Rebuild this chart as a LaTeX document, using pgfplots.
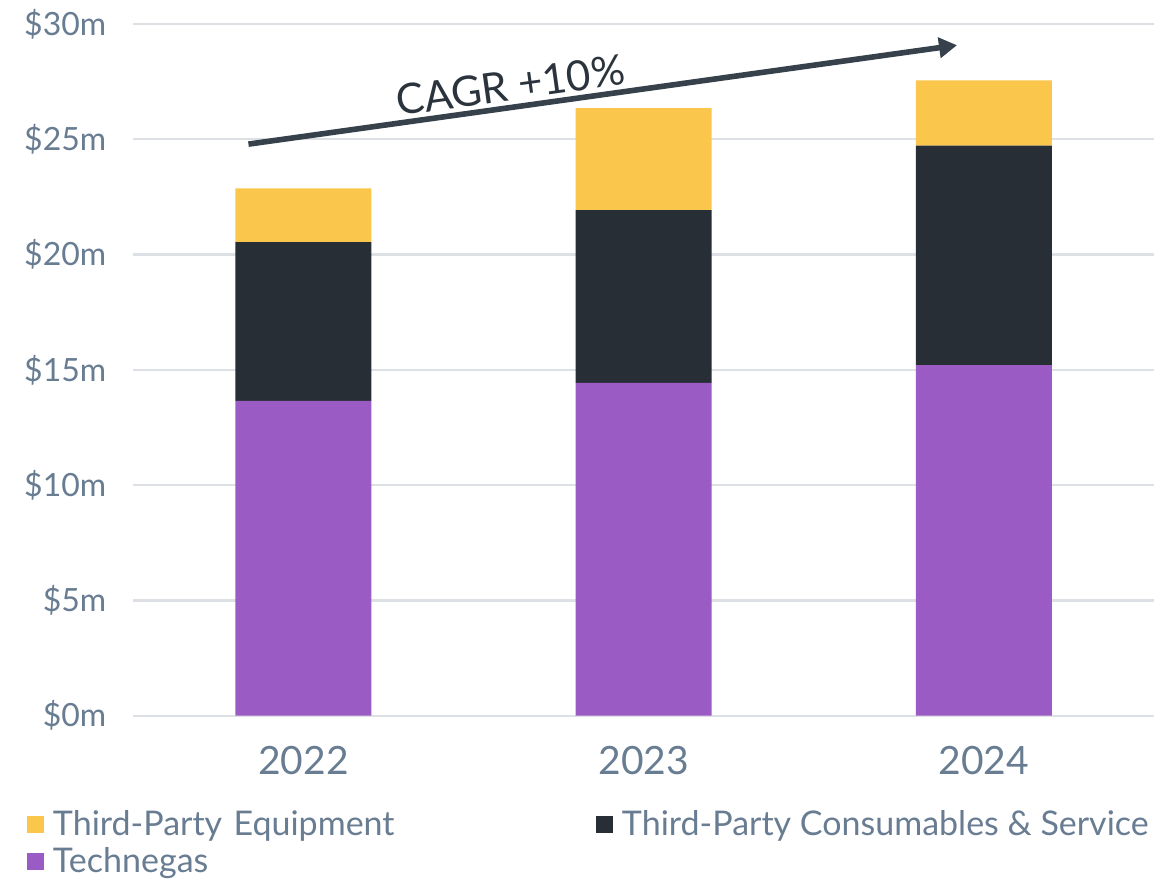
\documentclass[border=0pt]{standalone}
\usepackage{fontspec}
\setmainfont{Lato}
\usepackage{pgfplots}
\pgfplotsset{compat=1.18}
\usetikzlibrary{arrows.meta}
\definecolor{cPurple}{HTML}{9B5BC4}
\definecolor{cDark}{HTML}{282E36}
\definecolor{cYellow}{HTML}{FAC64C}
\definecolor{cText}{HTML}{687C92}
\definecolor{cGrid}{HTML}{DDE1E6}
\definecolor{cArrow}{HTML}{36414B}
\definecolor{cCagr}{HTML}{2B333C}
\begin{document}
\begin{tikzpicture}
\begin{axis}[
  at={(0,0)}, anchor=south west,
  scale only axis,
  width=510.35pt, height=345.85pt,
  ybar stacked, bar width=68pt,
  xmin=-0.5, xmax=2.5, ymin=0, ymax=30,
  xtick={0,1,2}, xticklabels={2022,2023,2024},
  ytick={0,5,10,15,20,25,30},
  yticklabels={\$0m,\$5m,\$10m,\$15m,\$20m,\$25m,\$30m},
  axis line style={draw=none},
  ymajorgrids, major grid style={cGrid, line width=1.2pt},
  major tick length=0pt,
  /pgf/number format/assume math mode=true,
  yticklabel style={font=\fontsize{16pt}{19pt}\selectfont, text=cText, anchor=east, xshift=-10pt},
  xticklabel style={font=\fontsize{19.5pt}{23pt}\selectfont, text=cText, anchor=north, yshift=-11.5pt},
  clip=false,
  reverse legend,
  legend columns=2,
  legend cell align=left,
  legend image code/.code={\fill[#1] (0pt,-3.25pt) rectangle (8.5pt,5.25pt);},
  legend style={at={(rel axis cs:0,0)}, anchor=north west, xshift=-53.15pt, yshift=-46.65pt,
    draw=none, fill=none, inner sep=0pt, outer sep=0pt,
    font=\fontsize{17pt}{20pt}\selectfont, text=cText,
    nodes={inner xsep=0pt, inner ysep=0pt, text height=13pt, text depth=4pt},
    row sep=1.85pt,
    /tikz/every odd column/.append style={column sep=4.5pt},
    /tikz/every even column/.append style={column sep=0pt}},
]
\addplot+[fill=cPurple, draw=none] coordinates {(0,13.65) (1,14.43) (2,15.21)};
\addlegendentry{Technegas}
\addplot+[fill=cDark, draw=none] coordinates {(0,6.89) (1,7.50) (2,9.51)};
\addlegendentry{Third-Party Consumables \& Service}
\addplot+[fill=cYellow, draw=none] coordinates {(0,2.33) (1,4.42) (2,2.84)};
\addlegendentry[text width=271.5pt]{Third-Party Equipment}
\draw[cArrow, line width=2.8pt, -{Triangle[length=9pt, width=10pt]}] (axis cs:-0.1615,24.79) -- (axis cs:1.921,29.08);
\node[anchor=base, rotate=7.95, inner sep=0pt, text=cCagr, font=\fontsize{21pt}{24pt}\selectfont, yshift=3.5pt] at (axis cs:0.617,26.40) {CAGR +10\%};
\end{axis}
\pgfresetboundingbox
\useasboundingbox (-66.65pt,-81.65pt) rectangle (515.85pt,357.85pt);
\end{tikzpicture}
\end{document}
